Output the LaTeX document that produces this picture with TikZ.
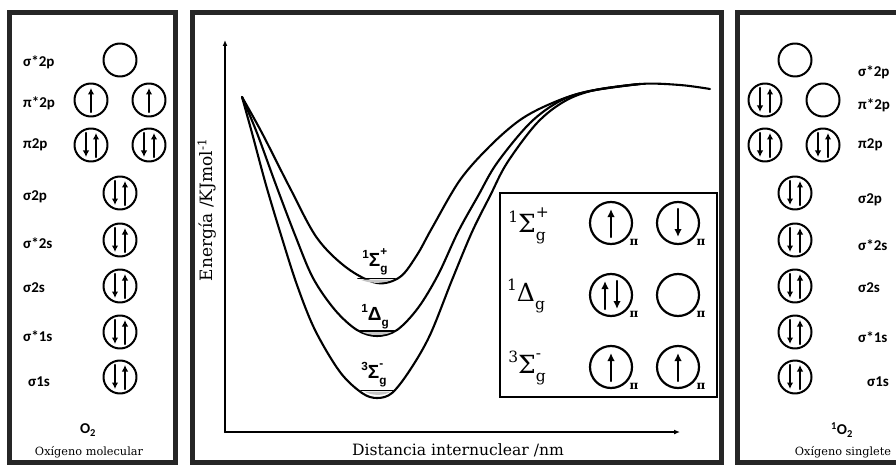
\documentclass[tikz,border=0pt]{standalone}
\usepackage{fontspec}
\setmainfont{DejaVu Serif}
\newfontfamily\orbfont{Carlito}
\newfontfamily\estfont{Liberation Sans}
\usetikzlibrary{arrows.meta}

% termino espectroscopico: multiplicidad, letra, subindice, superindice
\newcommand{\termino}[4]{\raisebox{0.42em}{\scalebox{0.62}{#1}}#2%
    \rlap{\raisebox{0.6em}{\scalebox{0.62}{#4}}}\raisebox{-0.32em}{\scalebox{0.62}{#3}}}
% espines dentro de un orbital
\newcommand{\arriba}[3][0]{\draw[spin] ([shift={(#1,#3)}]#2.center) -- ([shift={(#1,-#3)}]#2.center);}
\newcommand{\abajo}[3][0]{\draw[spin] ([shift={(#1,-#3)}]#2.center) -- ([shift={(#1,#3)}]#2.center);}
\newcommand{\lleno}[2]{\abajo[-5]{#1}{#2}\arriba[5]{#1}{#2}}

\begin{document}
\begin{tikzpicture}[x=1pt,y=-1pt,line cap=round,line join=round,
    marco/.style={draw=black!85,line width=5pt,line cap=butt,line join=miter},
    orb/.style={circle,draw,line width=2pt,minimum size=33pt,inner sep=0pt},
    insorb/.style={circle,draw,line width=2.2pt,minimum size=42pt,inner sep=0pt},
    spin/.style={line width=2.3pt,-{Latex[length=6.5pt,width=6.5pt]}},
    etiq/.style={font=\orbfont\bfseries\fontsize{15}{16}\selectfont,anchor=west,inner sep=0pt},
    molec/.style={font=\orbfont\bfseries\fontsize{15}{16}\selectfont,inner sep=0pt},
    nombre/.style={font=\fontsize{11.3}{12}\selectfont,inner sep=0pt},
    eje/.style={line width=2.3pt,-{Latex[length=6pt,width=5pt]}},
    curva/.style={line width=2.1pt},
    nivel/.style={line width=1.6pt},
    estado/.style={font=\estfont\bfseries\fontsize{19}{20}\selectfont,inner sep=0pt},
    insterm/.style={font=\fontsize{25}{26}\selectfont,inner sep=0pt},
    pisub/.style={font=\bfseries\fontsize{12}{13}\selectfont,inner sep=0pt}]
    \useasboundingbox (0,0) rectangle (896,465);
    \clip (0,0) rectangle (896,465);

    % Panel izquierdo: oxigeno molecular
    \draw[marco] (9,12.5) rectangle (175.5,462.5);
    \foreach \t/\y [count=\i] in {σ*2p/62,π*2p/103,π2p/145,σ2p/197,σ*2s/243,σ2s/288,σ*1s/336}
        \node[etiq] (Le\i) at (23,\y) {\t};
    \node[etiq] (Le8) at (28,382) {σ1s};
    \node[orb] (Lsp) at (120,60) {};
    \node[orb] (Lpa1) at (91,100) {}; \arriba{Lpa1}{12}
    \node[orb] (Lpa2) at (149,100) {}; \arriba{Lpa2}{12}
    \node[orb] (Lpe1) at (91,145) {}; \lleno{Lpe1}{12}
    \node[orb] (Lpe2) at (149,145) {}; \lleno{Lpe2}{12}
    \foreach \n/\y in {a/193,b/240,c/286,d/332,e/377}
        {\node[orb] (Ls\n) at (120,\y) {}; \lleno{Ls\n}{12}}
    \node[molec] (LO) at (88,430) {O\textsubscript{2}};
    \node[nombre] (Lnom) at (89,452) {Oxígeno molecular};

    % Panel derecho: oxigeno singlete
    \draw[marco] (737,12.5) rectangle (910,462.5);
    \foreach \t/\y [count=\i] in {σ*2p/72,π*2p/105,π2p/145,σ2p/200,σ*2s/245,σ2s/288,σ*1s/337}
        \node[etiq] (Re\i) at (858,\y) {\t};
    \node[etiq] (Re8) at (867,382) {σ1s};
    \node[orb] (Rsp) at (795,60) {};
    \node[orb] (Rpa1) at (765,100) {}; \lleno{Rpa1}{12}
    \node[orb] (Rpa2) at (823,100) {};
    \node[orb] (Rpe1) at (765,145) {}; \lleno{Rpe1}{12}
    \node[orb] (Rpe2) at (823,145) {}; \lleno{Rpe2}{12}
    \foreach \n/\y in {a/193,b/240,c/286,d/332,e/377}
        {\node[orb] (Rs\n) at (795,\y) {}; \lleno{Rs\n}{12}}
    \node[molec] (RO) at (842,430) {\textsuperscript{1}O\textsubscript{2}};
    \node[nombre] (Rnom) at (843,452) {Oxígeno singlete};

    % Panel central: curvas de energia potencial
    \draw[marco] (192.5,12.5) rectangle (721,462.5);
    \coordinate (O) at (225,432);
    \coordinate (Ytop) at (225,40);
    \coordinate (Xfin) at (680,432);
    \draw[eje] (O) -- (Ytop);
    \draw[eje] (O) -- (Xfin);
    \node[font=\fontsize{17}{18}\selectfont,rotate=90] (Yeti) at (207,210) {Energía /KJmol\textsuperscript{-1}};
    \node[font=\fontsize{15.6}{17}\selectfont] (Xeti) at (458,450) {Distancia internuclear /nm};

    % estado 1Sigma_g+
    \draw[curva] plot[smooth,tension=0.55] coordinates {(242,97) (262,133) (290,188) (317,238)
        (347,268) (377,283) (400,277) (417,255) (432,228) (460,180) (490,146) (520,120)
        (550,104) (585,92) (640,84) (680,85) (710,89)};
    % estado 1Delta_g
    \draw[curva] plot[smooth,tension=0.55] coordinates {(242,97) (257,133) (276,185) (295,235)
        (313,278) (335,310) (357,330) (377,336) (397,330) (418,308) (438,275) (458,232)
        (478,196) (497,163) (530,123) (560,101) (590,91) (640,84)};
    % estado 3Sigma_g-
    \draw[curva] plot[smooth,tension=0.55] coordinates {(242,97) (252,133) (266,185) (281,235)
        (297,285) (315,330) (340,372) (362,393) (377,398) (392,393) (410,370) (430,335)
        (452,280) (472,232) (490,196) (507,163) (537,123) (565,101) (595,90) (640,84)};

    % niveles vibracionales fundamentales
    \fill[gray!45] (360,279.5) .. controls (370,284) and (384,284) .. (392,279.5) -- cycle;
    \draw[nivel] (358,278.5) -- (395,278.5);
    \fill[gray!45] (362,332) .. controls (370,336) and (384,336) .. (392,332) -- cycle;
    \draw[nivel] (360,331) -- (394,331);
    \fill[gray!45] (364,391.5) .. controls (372,396) and (384,396) .. (391,391.5) -- cycle;
    \draw[nivel] (361,390.5) -- (393,390.5);
    \node[estado] (Ce1) at (375,262) {\termino{1}{Σ}{g}{+}};
    \node[estado] (Ce2) at (375,317) {\termino{1}{Δ}{g}{}};
    \node[estado] (Ce3) at (374,375) {\termino{3}{Σ}{g}{-}};

    % Recuadro con la ocupacion de los orbitales pi*
    \draw[line width=2.2pt,line join=miter] (500,193) rectangle (717,397);
    \node[insterm] (Ie1) at (527,226) {\termino{1}{Σ}{g}{+}};
    \node[insterm] (Ie2) at (526,296) {\termino{1}{Δ}{g}{}};
    \node[insterm] (Ie3) at (527,368) {\termino{3}{Σ}{g}{-}};
    \begin{scope}[spin/.style={line width=2.4pt,-{Latex[length=8pt,width=7.5pt]}}]
        \foreach \n/\x/\y in {s1/611/223,s2/678/223,d1/611/295,d2/678/295,t1/611/367,t2/678/367}
            {\node[insorb] (I\n) at (\x,\y) {};
             \node[pisub] (P\n) at ([shift={(23,19)}]I\n.center) {π};}
        \arriba{Is1}{14}
        \abajo{Is2}{14}
        \arriba[-6]{Id1}{14}\abajo[6]{Id1}{14}
        \arriba{It1}{14}
        \arriba{It2}{14}
    \end{scope}
\end{tikzpicture}
\end{document}
